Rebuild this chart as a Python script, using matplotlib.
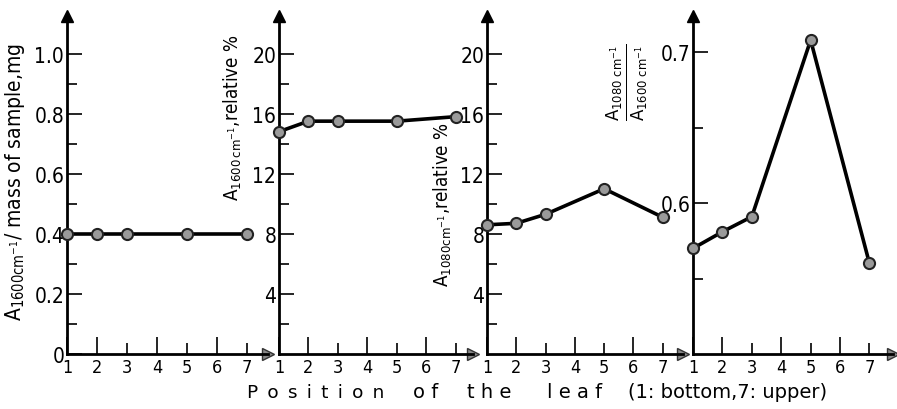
import matplotlib
matplotlib.use("Agg")
import matplotlib.pyplot as plt
from matplotlib.ticker import FixedLocator

plt.rcParams["font.family"] = ["DejaVu Sans"]
plt.rcParams["font.stretch"] = "condensed"
plt.rcParams["mathtext.fontset"] = "dejavusans"

# Leaf positions sampled (no leaf 4 or 6)
pos = [1, 2, 3, 5, 7]

# Panel data
a1600_per_mass = [0.40, 0.40, 0.40, 0.40, 0.40]
a1600_rel = [14.8, 15.5, 15.5, 15.5, 15.8]
a1080_rel = [8.6, 8.7, 9.3, 11.0, 9.1]
ratio_1080_1600 = [0.570, 0.581, 0.591, 0.708, 0.560]

long_ticks = [1, 2, 4, 6]
short_ticks = [3, 5, 7]

W, H = 897, 410
fig = plt.figure(figsize=(W / 100, H / 100), dpi=100)


def add_axes(x0, x1, y0=355, y1=17):
    return fig.add_axes([x0 / W, (H - y0) / H, (x1 - x0) / W, (y0 - y1) / H])


def style(ax, xmax, ylo, yhi, major, minor, fmt):
    ax.set_xlim(1, xmax)
    ax.set_ylim(ylo, yhi)
    for s in ["top", "right"]:
        ax.spines[s].set_visible(False)
    for s in ["left", "bottom"]:
        ax.spines[s].set_linewidth(2.0)
    ax.patch.set_alpha(0)
    # x ticks: long on even, short on odd positions
    ax.set_xticks(long_ticks)
    ax.set_xticklabels([str(t) for t in long_ticks])
    ax.set_xticks(short_ticks, minor=True)
    ax.set_xticklabels([str(t) for t in short_ticks], minor=True)
    ax.tick_params(axis="x", which="both", direction="in", width=1.2,
                   labelsize=13, pad=3)
    ax.tick_params(axis="x", which="major", length=12)
    ax.tick_params(axis="x", which="minor", length=8)
    ax.set_yticks(major)
    ax.set_yticklabels(fmt)
    ax.yaxis.set_minor_locator(FixedLocator(minor))
    ax.tick_params(axis="y", which="major", direction="in", length=11, width=1.2,
                   labelsize=15, pad=2)
    ax.tick_params(axis="y", which="minor", direction="in", length=7, width=1.2)
    # axis arrows
    ax.plot(0, 1, "^", color="black", ms=8, transform=ax.transAxes, clip_on=False)
    ax.plot(1, 0, ">", color="#888888", mec="#333333", mew=1, ms=9,
            transform=ax.transAxes, clip_on=False)


def draw(ax, y):
    ax.plot(pos, y, color="black", lw=2.6, zorder=3, clip_on=False)
    ax.plot(pos, y, "o", ms=8, mfc="#9a9a9a", mec="#222222", mew=1.5,
            zorder=4, clip_on=False)


ax1 = add_axes(67, 268)
style(ax1, 7.7, 0, 1.127, [0, 0.2, 0.4, 0.6, 0.8, 1.0], [0.1, 0.3, 0.5, 0.7, 0.9],
      ["0", "0.2", "0.4", "0.6", "0.8", "1.0"])
draw(ax1, a1600_per_mass)

ax2 = add_axes(279, 473)
style(ax2, 7.58, 0, 22.5, [4, 8, 12, 16, 20], [2, 6, 10, 14, 18],
      ["4", "8", "12", "16", "20"])
draw(ax2, a1600_rel)

ax3 = add_axes(487, 683)
style(ax3, 7.69, 0, 22.5, [4, 8, 12, 16, 20], [2, 6, 10, 14, 18],
      ["4", "8", "12", "16", "20"])
draw(ax3, a1080_rel)

ax4 = add_axes(693, 893)
style(ax4, 7.8, 0.5, 0.724, [0.6, 0.7], [0.55, 0.65],
      ["0.6", "0.7"])
draw(ax4, ratio_1080_1600)

# y-axis titles
fig.text(15 / W, 1 - 182 / H,
         r"A$_{\mathregular{1600cm^{-1}}}$/ mass of sample,mg",
         rotation=90, ha="center", va="center", fontsize=15)
fig.text(233 / W, 1 - 118 / H,
         r"A$_{\mathregular{1600\,cm^{-1}}}$,relative %",
         rotation=90, ha="center", va="center", fontsize=13.5)
fig.text(443 / W, 1 - 205 / H,
         r"A$_{\mathregular{1080cm^{-1}}}$,relative %",
         rotation=90, ha="center", va="center", fontsize=13.5)
fig.text(627 / W, 1 - 82 / H,
         r"$\frac{\mathregular{A_{1080\ cm^{-1}}}}{\mathregular{A_{1600\ cm^{-1}}}}$",
         rotation=90, ha="center", va="center", fontsize=19)

# x-axis title: letter-spaced words, then the key
words = ["P\u2002o\u2002s\u2002i\u2002t\u2002i\u2002o\u2002n", "o f", "t h e", "l e a f"]
word_x = [247, 413, 467, 547]
word_size = [13.3, 14, 14, 14]
for w, x, fs in zip(words, word_x, word_size):
    fig.text(x / W, 1 - 393 / H, w, ha="left", va="center",
             fontsize=fs, fontstretch="normal")
fig.text(628 / W, 1 - 393 / H, "(1: bottom,7: upper)",
         ha="left", va="center", fontsize=14, fontstretch="normal")

fig.savefig("out.png", dpi=100)
